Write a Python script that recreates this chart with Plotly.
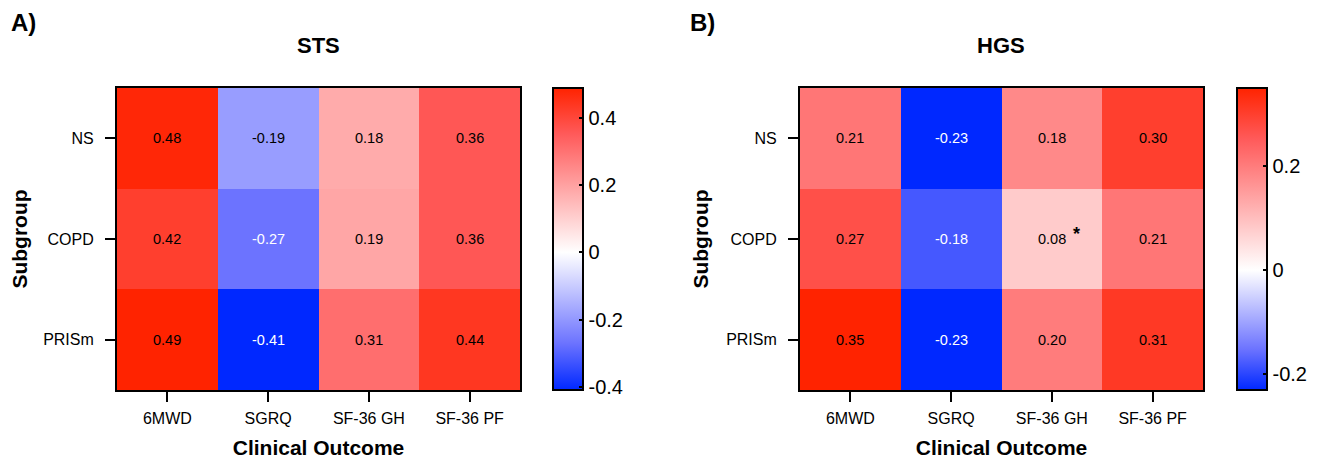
import plotly.graph_objects as go

outcomes = ["6MWD", "SGRQ", "SF-36 GH", "SF-36 PF"]
subgroups = ["NS", "COPD", "PRISm"]

sts_values = [
    [0.48, -0.19, 0.18, 0.36],
    [0.42, -0.27, 0.19, 0.36],
    [0.49, -0.41, 0.31, 0.44],
]
hgs_values = [
    [0.21, -0.23, 0.18, 0.30],
    [0.27, -0.18, 0.08, 0.21],
    [0.35, -0.23, 0.20, 0.31],
]
hgs_flags = [
    ["", "", "", ""],
    ["", "", "*", ""],
    ["", "", "", ""],
]

sts_range = (-0.41, 0.49)
hgs_range = (-0.23, 0.35)
sts_ticks = [-0.4, -0.2, 0, 0.2, 0.4]
hgs_ticks = [-0.2, 0, 0.2]

FONT = "Liberation Sans, Arial, Helvetica, sans-serif"

# page has an 8px body margin; figure placed so it fills the 1329x459 window
OFF = 8
W, H = 1329 - 2 * OFF, 459 - OFF


def px_x(v):
    return (v - OFF) / W


def px_y(v):
    return 1 - (v - OFF) / H


def cscale(zmin, zmax):
    mid = (0 - zmin) / (zmax - zmin)
    neg = [(1.0, "rgb(0,40,255)"), (0.66, "rgb(108,115,255)"), (0.0, "rgb(255,255,255)")]
    pos = [(0.72, "rgb(255,90,90)"), (1.0, "rgb(255,35,0)")]
    sc = [[mid * (1 - t), c] for t, c in neg]
    sc += [[mid + (1 - mid) * t, c] for t, c in pos]
    return sc


fig = go.Figure()

panels = [
    (sts_values, sts_range, sts_ticks, "x", "y", 553, None),
    (hgs_values, hgs_range, hgs_ticks, "x2", "y2", 1237, hgs_flags),
]

top_px, bot_px = 88, 390
annotations = []
for vals, (zmin, zmax), ticks, xa, ya, cbx, flags in panels:
    fig.add_trace(go.Heatmap(
        z=vals, x=outcomes, y=subgroups, xaxis=xa, yaxis=ya,
        zmin=zmin, zmax=zmax, colorscale=cscale(zmin, zmax),
        xgap=0, ygap=0, hoverinfo="skip",
        colorbar=dict(
            x=px_x(cbx), xanchor="left", xref="paper",
            y=(px_y(top_px) + px_y(bot_px)) / 2, yanchor="middle",
            len=(bot_px - top_px) / H, lenmode="fraction",
            thickness=30, thicknessmode="pixels",
            outlinewidth=2, outlinecolor="black",
            tickvals=ticks, ticktext=[f"{t:g}" for t in ticks],
            ticks="inside", ticklen=5, tickwidth=2, tickcolor="black",
            tickfont=dict(family=FONT, size=20, color="black"),
            xpad=0, ypad=0,
        ),
    ))
    for i, sg in enumerate(subgroups):
        for j, oc in enumerate(outcomes):
            v = vals[i][j]
            col = "white" if (v < 0 and abs(v / zmin) > 0.55) else "black"
            annotations.append(dict(
                x=oc, y=sg, xref=xa, yref=ya, text=f"{v:.2f}",
                showarrow=False, font=dict(family=FONT, size=14.5, color=col),
            ))
            if flags and flags[i][j]:
                annotations.append(dict(
                    x=oc, y=sg, xref=xa, yref=ya, text="<b>" + flags[i][j] + "</b>",
                    showarrow=False, xshift=25, yshift=5,
                    font=dict(family=FONT, size=18, color="black"),
                ))

axis_x = dict(
    showline=True, linewidth=2, linecolor="black", mirror=True,
    ticks="outside", ticklen=10, tickwidth=2, tickcolor="black",
    tickfont=dict(family=FONT, size=16, color="black"),
    showgrid=False, zeroline=False, automargin=False, ticklabelstandoff=3,
)
axis_y = dict(axis_x, ticklabelstandoff=8)

xtitle = dict(text="<b>Clinical Outcome</b>", font=dict(size=21, family=FONT), standoff=26)
ytitle = dict(text="<b>Subgroup</b>", font=dict(size=21, family=FONT), standoff=12)

fig.update_layout(
    width=W, height=H,
    margin=dict(l=0, r=0, t=0, b=0),
    paper_bgcolor="white", plot_bgcolor="white",
    font=dict(family=FONT, color="black"),
    xaxis=dict(domain=[px_x(117), px_x(520)], anchor="y", title=xtitle, **axis_x),
    yaxis=dict(domain=[px_y(bot_px), px_y(top_px)], anchor="x", autorange="reversed",
               title=ytitle, **axis_y),
    xaxis2=dict(domain=[px_x(800), px_x(1203)], anchor="y2", title=xtitle, **axis_x),
    yaxis2=dict(domain=[px_y(bot_px), px_y(top_px)], anchor="x2", autorange="reversed",
                title=ytitle, **axis_y),
)

annotations += [
    dict(text="<b>A)</b>", x=px_x(9), y=px_y(23), xref="paper", yref="paper",
         xanchor="left", yanchor="middle", showarrow=False, font=dict(size=24, family=FONT)),
    dict(text="<b>B)</b>", x=px_x(688), y=px_y(23), xref="paper", yref="paper",
         xanchor="left", yanchor="middle", showarrow=False, font=dict(size=24, family=FONT)),
    dict(text="<b>STS</b>", x=px_x(318), y=px_y(45), xref="paper", yref="paper",
         xanchor="center", yanchor="middle", showarrow=False, font=dict(size=22, family=FONT)),
    dict(text="<b>HGS</b>", x=px_x(1001), y=px_y(45), xref="paper", yref="paper",
         xanchor="center", yanchor="middle", showarrow=False, font=dict(size=22, family=FONT)),
]
fig.update_layout(annotations=annotations)

fig.write_html("out.html")
